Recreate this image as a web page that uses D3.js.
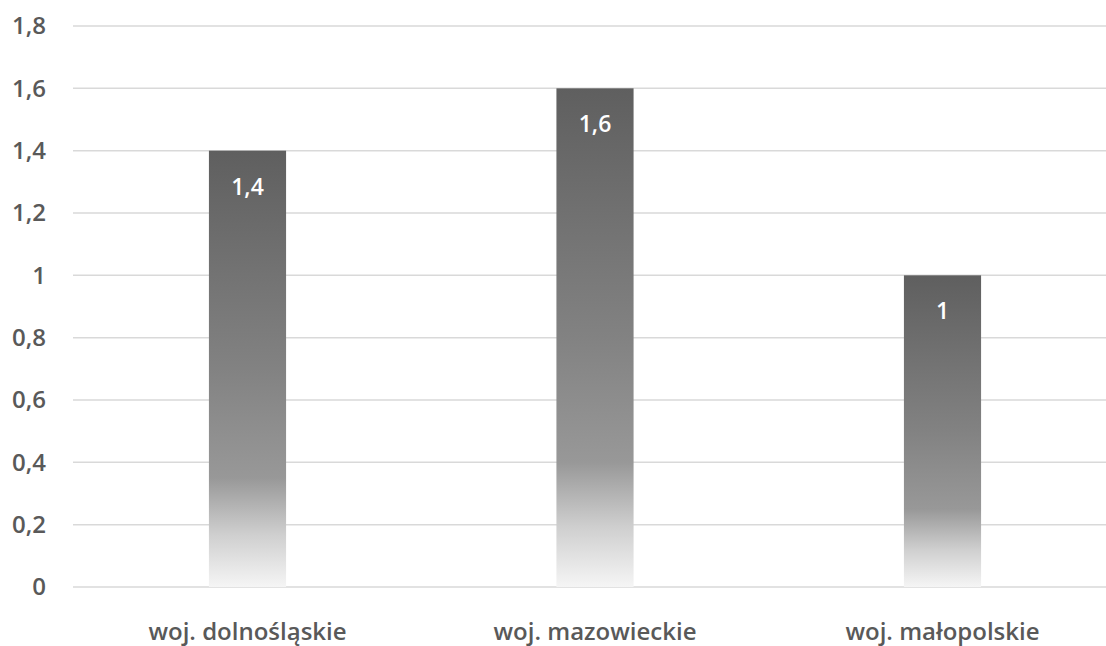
<!DOCTYPE html>
<html>
<head>
<meta charset="utf-8">
<script src="https://cdn.jsdelivr.net/npm/d3@7"></script>
<style>
  body { margin: 0; background: #ffffff; }
  svg text { font-family: "Open Sans", "Noto Sans", sans-serif; }
</style>
</head>
<body>
<div id="chart"></div>
<script>
// Chart values
const categories = ["woj. dolnośląskie", "woj. mazowieckie", "woj. małopolskie"];
const values = [1.4, 1.6, 1];
const yTicks = [0, 0.2, 0.4, 0.6, 0.8, 1, 1.2, 1.4, 1.6, 1.8];

const width = 1106, height = 646;
const fmt = d => String(d).replace(".", ",");

const svg = d3.select("#chart").append("svg")
              .attr("width", width)
              .attr("height", height);

// Gradient used by every bar (dark top fading to near-white bottom)
const grad = svg.append("defs").append("linearGradient")
                .attr("id", "barGrad")
                .attr("x1", 0).attr("y1", 0)
                .attr("x2", 0).attr("y2", 1);
grad.append("stop").attr("offset", "0%").attr("stop-color", "#5f5f5f");
grad.append("stop").attr("offset", "50%").attr("stop-color", "#828282");
grad.append("stop").attr("offset", "75%").attr("stop-color", "#989898");
grad.append("stop").attr("offset", "88%").attr("stop-color", "#cfcfcf");
grad.append("stop").attr("offset", "100%").attr("stop-color", "#f5f5f5");

// Scales
const xScale = d3.scaleBand()
                 .domain(categories)
                 .range([73.75, 1116.25])
                 .paddingInner(0.778)
                 .paddingOuter(0.389);

const yScale = d3.scaleLinear()
                 .domain([0, 1.8])
                 .range([587, 26]);

// Gridlines
svg.append("g")
   .selectAll("line")
   .data(yTicks)
   .enter()
   .append("line")
   .attr("x1", 73)
   .attr("x2", width)
   .attr("y1", d => yScale(d))
   .attr("y2", d => yScale(d))
   .attr("stroke", "#d9d9d9")
   .attr("stroke-width", 1.5);

// Y axis labels
const yAxis = svg.append("g")
                 .attr("transform", "translate(46,0)")
                 .call(d3.axisLeft(yScale).tickValues(yTicks).tickFormat(fmt).tickSize(0).tickPadding(0));
yAxis.select(".domain").remove();
yAxis.selectAll("text")
     .attr("fill", "#595959")
     .style("font-size", "24px")
     .style("font-weight", "600");

// X axis labels
const xAxis = svg.append("g")
                 .attr("transform", "translate(0,632)")
                 .call(d3.axisBottom(xScale).tickSize(0).tickPadding(0));
xAxis.select(".domain").remove();
xAxis.selectAll("text")
     .attr("fill", "#595959")
     .attr("dy", "0.35em")
     .style("font-size", "24px")
     .style("font-weight", "600");

// Bars
svg.append("g")
   .selectAll("rect")
   .data(values)
   .enter()
   .append("rect")
   .attr("x", (d, i) => xScale(categories[i]))
   .attr("y", d => yScale(d))
   .attr("width", xScale.bandwidth())
   .attr("height", d => yScale(0) - yScale(d))
   .attr("fill", "url(#barGrad)");

// Value labels inside bar tops
svg.append("g")
   .selectAll("text")
   .data(values)
   .enter()
   .append("text")
   .attr("x", (d, i) => xScale(categories[i]) + xScale.bandwidth() / 2)
   .attr("y", d => yScale(d) + 36)
   .attr("dy", "0.35em")
   .attr("text-anchor", "middle")
   .attr("fill", "#ffffff")
   .style("font-size", "23px")
   .style("font-weight", "600")
   .text(fmt);
</script>
</body>
</html>
